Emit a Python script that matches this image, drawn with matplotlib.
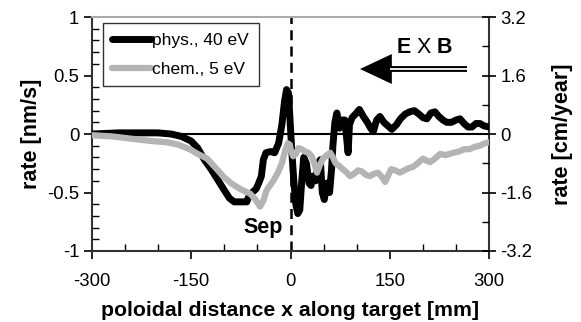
import numpy as np
import matplotlib
matplotlib.use('Agg')
import matplotlib.pyplot as plt
from matplotlib.ticker import MultipleLocator

plt.rcParams['font.family'] = ['Liberation Sans', 'DejaVu Sans']
plt.rcParams['axes.unicode_minus'] = False
plt.rcParams['mathtext.fontset'] = 'custom'
plt.rcParams['mathtext.rm'] = 'Liberation Sans'
plt.rcParams['mathtext.bf'] = 'Liberation Sans:bold'

# physical sputtering, 40 eV (nm/s)
phys_x = [-300, -280, -260, -240, -220, -200, -190, -180, -165, -150, -140, -130, -120,
          -110, -100, -92, -85, -78, -72, -66, -62, -58, -52, -48, -44, -41, -37, -30, -24,
          -18, -13, -9, -6, -3, -1, 2, 5, 8, 11, 14, 17, 20, 24, 28, 31, 34, 38, 42, 45,
          48, 51, 55, 59, 62, 64, 67, 70, 74, 78, 82, 85, 87, 89, 93, 98, 104, 110, 116,
          121, 125, 130, 135, 141, 147, 153, 160, 166, 173, 180, 187, 194, 200, 206, 212,
          218, 224, 230, 236, 243, 250, 256, 262, 268, 274, 280, 286, 292, 300]
phys_y = [0.0, 0.005, 0.01, 0.01, 0.01, 0.01, 0.005, 0.0, -0.02, -0.06, -0.12, -0.22, -0.30,
          -0.39, -0.48, -0.55, -0.58, -0.58, -0.58, -0.58, -0.52, -0.50, -0.47, -0.42, -0.36, -0.22, -0.16, -0.15, -0.16,
          -0.08, 0.08, 0.28, 0.38, 0.35, 0.15, -0.15, -0.40, -0.60, -0.68, -0.65, -0.40, -0.20, -0.25, -0.42, -0.44, -0.36, -0.40, -0.25, -0.22,
          -0.50, -0.56, -0.42, -0.50, -0.30, -0.10, 0.10, 0.18, 0.05, 0.12, 0.12, -0.05, -0.16, 0.08, 0.14, 0.17, 0.21, 0.15, 0.10,
          0.05, 0.02, 0.12, 0.15, 0.10, 0.07, 0.04, 0.08, 0.13, 0.17, 0.19, 0.20, 0.17, 0.14, 0.13, 0.18,
          0.19, 0.15, 0.12, 0.10, 0.10, 0.12, 0.13, 0.09, 0.06, 0.06, 0.09, 0.09, 0.07, 0.06]

# chemical erosion, 5 eV (nm/s)
chem_x = [-300, -270, -240, -210, -187, -170, -152, -140, -126, -113, -102, -90, -76, -61,
          -53, -46, -41, -36, -31, -26, -19, -13, -8, -4, -1, 1, 4, 8, 12, 17, 22, 27,
          32, 36, 40, 44, 49, 55, 60, 64, 68, 73, 79, 85, 90, 96, 102, 108, 114, 120, 126,
          132, 137, 143, 147, 152, 158, 165, 172, 179, 185, 192, 200, 206, 211, 218, 226,
          234, 240, 246, 254, 262, 270, 278, 286, 293, 300]
chem_y = [-0.01, -0.02, -0.04, -0.06, -0.07, -0.09, -0.13, -0.17, -0.21, -0.29, -0.36, -0.42, -0.47, -0.51,
          -0.56, -0.62, -0.57, -0.48, -0.44, -0.40, -0.33, -0.25, -0.14, -0.08, -0.09, -0.15, -0.19, -0.17, -0.12, -0.13, -0.15, -0.16,
          -0.19, -0.25, -0.33, -0.27, -0.21, -0.18, -0.16, -0.20, -0.25, -0.27, -0.30, -0.33, -0.36, -0.34, -0.31, -0.32, -0.35, -0.36, -0.34,
          -0.33, -0.36, -0.41, -0.36, -0.30, -0.31, -0.33, -0.31, -0.29, -0.28, -0.25, -0.21, -0.23, -0.24, -0.21, -0.17,
          -0.18, -0.17, -0.16, -0.15, -0.13, -0.13, -0.11, -0.10, -0.08, -0.07]

x_ticks = [-300, -150, 0, 150, 300]
left_ticks = [-1, -0.5, 0, 0.5, 1]
left_labels = ['-1', '-0.5', '0', '0.5', '1']
right_ticks = [-3.2, -1.6, 0, 1.6, 3.2]
right_labels = ['-3.2', '-1.6', '0', '1.6', '3.2']

fig = plt.figure(figsize=(5.81, 3.22), dpi=100)
ax = fig.add_axes([0.158, 0.2205, 0.684, 0.7265])

ax.axhline(0, color='black', lw=1.5, zorder=1)
ax.axvline(0, color='black', lw=1.8, ls=(0, (4, 2.5)), zorder=1, clip_on=False)

ax.plot(phys_x, phys_y, color='black', lw=5.0, solid_capstyle='round', solid_joinstyle='round',
        label='phys., 40 eV', zorder=3)
ax.plot(chem_x, chem_y, color='#b4b4b4', lw=4.5, solid_capstyle='round', solid_joinstyle='round',
        label='chem., 5 eV', zorder=4)

ax.set_xlim(-300, 300)
ax.set_ylim(-1, 1)
ax.set_xticks(x_ticks)
ax.set_xticklabels([str(v) for v in x_ticks])
ax.set_yticks(left_ticks)
ax.set_yticklabels(left_labels)
ax.xaxis.set_minor_locator(MultipleLocator(50))
ax.yaxis.set_minor_locator(MultipleLocator(0.1))
ax.tick_params(which='major', direction='out', length=6, width=1.2, labelsize=13.3, pad=3)
ax.tick_params(which='minor', direction='in', length=5, width=1.0)
ax.tick_params(axis='x', which='major', pad=10)

for s in ['left', 'bottom', 'right']:
    ax.spines[s].set_color('#333333')
    ax.spines[s].set_linewidth(1.5)
ax.spines['top'].set_color('#aaaaaa')
ax.spines['top'].set_linewidth(1.5)

ax.set_ylabel('rate [nm/s]', fontsize=15.5, fontweight='bold', labelpad=4)
ax.set_xlabel('poloidal distance x along target [mm]', fontsize=15.3, fontweight='bold', labelpad=8)

# right axis in cm/year
ax2 = ax.twinx()
ax2.set_ylim(-3.2, 3.2)
ax2.set_yticks(right_ticks)
ax2.set_yticklabels(right_labels)
ax2.yaxis.set_minor_locator(MultipleLocator(0.8))
ax2.tick_params(which='major', direction='inout', length=10, width=1.2, labelsize=13.3, pad=3)
ax2.tick_params(which='minor', direction='in', length=5, width=1.0)
ax2.set_ylabel('rate [cm/year]', fontsize=15.5, fontweight='bold', labelpad=14)
for s in ax2.spines.values():
    s.set_visible(False)

leg = ax.legend(loc='upper left', bbox_to_anchor=(0.028, 0.974), borderaxespad=0,
                fontsize=12.5, frameon=True, fancybox=False, edgecolor='black',
                handlelength=2.2, handletextpad=0.1, labelspacing=0.8, borderpad=0.55)
leg.get_frame().set_linewidth(1.0)
leg.set_zorder(6)

ax.text(-41, -0.8, 'Sep', fontsize=15.5, fontweight='bold', ha='center', va='center')

# E x B arrow
ax.text(203, 0.74, r'$\mathbf{E}$ X $\mathbf{B}$', fontsize=15.5, ha='center', va='center')
ax.plot([150, 267], [0.556, 0.556], color='black', lw=4.2, solid_capstyle='butt')
ax.plot([150, 268], [0.556, 0.556], color='white', lw=1.3, solid_capstyle='butt')
ax.fill([105, 153, 153], [0.556, 0.684, 0.428], color='black', lw=0)

fig.savefig('out.png', dpi=100)
